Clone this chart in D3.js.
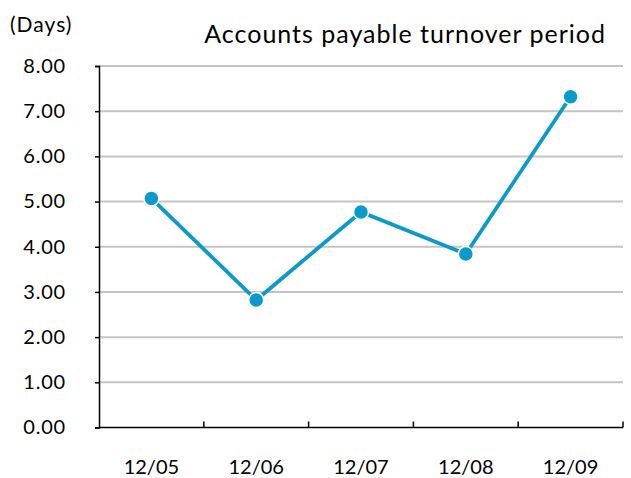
<!DOCTYPE html>
<html>
<head>
<meta charset="utf-8">
<script src="https://d3js.org/d3.v7.min.js"></script>
<style>
    body { margin: 0; background: #fff; }
    svg text { font-family: Lato, "Open Sans", sans-serif; fill: #000; }
</style>
</head>
<body>
<svg id="chart"></svg>
<script>
// Data
const periods = ["12/05", "12/06", "12/07", "12/08", "12/09"];
const turnoverDays = [5.07, 2.82, 4.77, 3.84, 7.32];
const yTicks = [0, 1, 2, 3, 4, 5, 6, 7, 8];

const width = 631, height = 478;
const margin = { top: 66, right: 8, bottom: 50, left: 99 };

let svg = d3.select("#chart")
    .attr("width", width)
    .attr("height", height);

let x = d3.scaleBand()
    .domain(periods)
    .range([margin.left, width - margin.right]);

let y = d3.scaleLinear()
    .domain([0, 8])
    .range([height - margin.bottom - 0.5, margin.top]);

// Gridlines
svg.append("g")
    .selectAll("line")
    .data(yTicks.filter(d => d > 0))
    .enter().append("line")
    .attr("x1", margin.left)
    .attr("x2", width - margin.right)
    .attr("y1", d => y(d))
    .attr("y2", d => y(d))
    .attr("stroke", "#c4c4c4")
    .attr("stroke-width", 2);

// Y axis
let yAxis = svg.append("g")
    .attr("transform", `translate(${margin.left},0)`)
    .call(d3.axisLeft(y).tickValues(yTicks).tickFormat(d3.format(".2f")).tickSize(4).tickPadding(29));
yAxis.select(".domain").attr("stroke", "#000").attr("stroke-width", 1.5);
yAxis.selectAll(".tick line").attr("stroke", "#000").attr("stroke-width", 1.5);
yAxis.selectAll("text").style("font-size", "20px").style("letter-spacing", "0.8px");

// X axis (ticks at band boundaries, pointing up)
let xAxisY = y(0);
let xg = svg.append("g");
xg.append("line")
    .attr("x1", margin.left)
    .attr("x2", width - margin.right)
    .attr("y1", xAxisY)
    .attr("y2", xAxisY)
    .attr("stroke", "#000")
    .attr("stroke-width", 1.5);
let boundaries = periods.map(p => x(p) + x.bandwidth());
xg.selectAll(".xtick")
    .data(boundaries)
    .enter().append("line")
    .attr("x1", d => d)
    .attr("x2", d => d)
    .attr("y1", xAxisY)
    .attr("y2", xAxisY - 6)
    .attr("stroke", "#000")
    .attr("stroke-width", 1.5);
xg.selectAll(".xlabel")
    .data(periods)
    .enter().append("text")
    .attr("x", d => x(d) + x.bandwidth() / 2)
    .attr("y", xAxisY + 46)
    .attr("text-anchor", "middle")
    .style("font-size", "20px")
    .text(d => d);

// Line
let line = d3.line()
    .x((d, i) => x(periods[i]) + x.bandwidth() / 2)
    .y(d => y(d));

svg.append("path")
    .datum(turnoverDays)
    .attr("d", line)
    .attr("fill", "none")
    .attr("stroke", "#0a9acb")
    .attr("stroke-width", 3.8);

svg.selectAll(".pt")
    .data(turnoverDays)
    .enter().append("circle")
    .attr("cx", (d, i) => x(periods[i]) + x.bandwidth() / 2)
    .attr("cy", d => y(d))
    .attr("r", 7.5)
    .attr("fill", "#0a9acb")
    .attr("stroke", "#fff")
    .attr("stroke-width", 1.5);

// Titles
svg.append("text")
    .attr("x", 10)
    .attr("y", 32)
    .style("font-size", "21px")
    .style("letter-spacing", "1px")
    .text("(Days)");

svg.append("text")
    .attr("x", 606)
    .attr("y", 43)
    .attr("text-anchor", "end")
    .style("font-size", "25px")
    .style("letter-spacing", "1px")
    .text("Accounts payable turnover period");
</script>
</body>
</html>
